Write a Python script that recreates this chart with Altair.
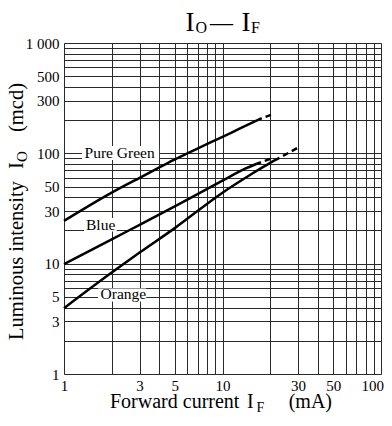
import altair as alt
import pandas as pd

SERIF = "Liberation Serif"

# ---- curve data (log-log) ----
green_x = [1, 2, 3, 4, 5, 7, 10, 13, 17.7]
green_y = [24.4, 44, 60, 74.5, 88, 111, 141, 169, 208]
green_dash_x = [17.7, 20.2]
green_dash_y = [208, 223]

blue_x = [1, 2, 3, 5, 10, 14, 17.5]
blue_y = [9.9, 16.6, 22.5, 33, 56.5, 73, 83]
blue_dash_x = [17.5, 20.4]
blue_dash_y = [83, 90]

orange_x = [1, 2, 3, 5, 10, 15, 20, 22.9]
orange_y = [3.95, 8.3, 12.6, 21, 44, 64, 82, 91]
orange_dash_x = [22.9, 30.4]
orange_dash_y = [91, 114]

# ---- axes ----
x_grid = [1, 2, 3, 4, 5, 6, 7, 8, 9, 10, 20, 30, 40, 50, 60, 70, 80, 90, 100]
y_grid = [1, 2, 3, 4, 5, 6, 7, 8, 9, 10, 20, 30, 40, 50, 60, 70, 80, 90,
          100, 200, 300, 400, 500, 600, 700, 800, 900, 1000]
x_labels = [1, 3, 5, 10, 30, 50, 100]
y_labels = [1, 3, 5, 10, 30, 50, 100, 300, 500]

# ---- curve labels ----
label_text = ["Pure Green", "Blue", "Orange"]
label_x = [1.347, 1.377, 1.70]
label_y = [100, 22.2, 5.3]
box_x1 = [1.30, 1.337, 1.639]
box_x2 = [3.98, 2.15, 3.30]
box_y1 = [87.1, 19.6, 4.55]
box_y2 = [116.7, 25.97, 5.95]

rows = []
for name, xs, ys in [("Pure Green", green_x, green_y), ("Blue", blue_x, blue_y), ("Orange", orange_x, orange_y)]:
    for a, b in zip(xs, ys):
        rows.append({"series": name, "x": a, "y": b})
solid_df = pd.DataFrame(rows)

rows = []
for name, xs, ys in [("Pure Green", green_dash_x, green_dash_y), ("Blue", blue_dash_x, blue_dash_y), ("Orange", orange_dash_x, orange_dash_y)]:
    for a, b in zip(xs, ys):
        rows.append({"series": name, "x": a, "y": b})
dash_df = pd.DataFrame(rows)

labels_df = pd.DataFrame({"text": label_text, "x": label_x, "y": label_y,
                          "bx1": box_x1, "bx2": box_x2, "by1": box_y1, "by2": box_y2})

x_expr = "indexof(%s, datum.value) >= 0 ? format(datum.value, 'd') : ''" % str(x_labels)
y_expr = "datum.value == 1000 ? '1 000' : (indexof(%s, datum.value) >= 0 ? format(datum.value, 'd') : '')" % str(y_labels)

axis_common = dict(title=None, grid=True, ticks=False, domain=False, labelOverlap=False,
                   labelFont=SERIF, labelFontSize=15, labelColor="black",
                   gridColor="#2a2a2a", gridWidth=1)

x_scale = alt.Scale(type="log", domain=[1, 100], nice=False)
y_scale = alt.Scale(type="log", domain=[1, 1000], nice=False)
x_axis = alt.Axis(values=x_grid, labelExpr=x_expr, labelFlush=False, labelPadding=4,
                  labelAlign={"expr": "datum.value == 100 ? 'right' : 'center'"},
                  labelOffset={"expr": "datum.value == 100 ? 2.5 : 0"},
                  **axis_common)
y_axis = alt.Axis(values=y_grid, labelExpr=y_expr, labelPadding=5, **axis_common)

boxes = alt.Chart(labels_df).mark_rect(color="white").encode(
    x=alt.X("bx1:Q", scale=x_scale, axis=x_axis),
    x2="bx2:Q",
    y=alt.Y("by1:Q", scale=y_scale, axis=y_axis),
    y2="by2:Q",
)

solid = alt.Chart(solid_df).mark_line(color="black", strokeWidth=2.5, interpolate="monotone").encode(
    x=alt.X("x:Q", scale=x_scale, axis=x_axis),
    y=alt.Y("y:Q", scale=y_scale, axis=y_axis),
    detail="series:N",
)

dashed = alt.Chart(dash_df).mark_line(color="black", strokeWidth=2.5, strokeDash=[6, 4], strokeDashOffset=6).encode(
    x=alt.X("x:Q", scale=x_scale, axis=x_axis),
    y=alt.Y("y:Q", scale=y_scale, axis=y_axis),
    detail="series:N",
)

label_marks = alt.Chart(labels_df).mark_text(font=SERIF, fontSize=15.5, align="left", baseline="middle", color="black").encode(
    x=alt.X("x:Q", scale=x_scale, axis=x_axis),
    y=alt.Y("y:Q", scale=y_scale, axis=y_axis),
    text="text:N",
)


def txt(s, px, py, size, angle=None, align="left", baseline="alphabetic"):
    kw = dict(font=SERIF, fontSize=size, align=align, baseline=baseline, color="black")
    if angle is not None:
        kw["angle"] = angle
    return alt.Chart(pd.DataFrame({"t": [s]})).mark_text(**kw).encode(
        x=alt.value(px), y=alt.value(py), text="t:N")


texts = [
    # title  I_O — I_F
    txt("I", 121.5, -12.3, 27),
    txt("O", 131.5, -10.5, 16),
    txt("\u2014", 146, -12.8, 23),
    txt("I", 177.5, -12.3, 27),
    txt("F", 187, -10.5, 16),
    # x title
    txt("Forward current", 46, 365, 20),
    txt("I", 183, 365, 20),
    txt("F", 192.5, 368.5, 14),
    txt("(mA)", 268, 365, 20, align="right"),
    # y title
    txt("Luminous intensity", -41, 297, 20.5, angle=270),
    txt("I", -41, 126, 20.5, angle=270),
    txt("O", -37, 119, 15, angle=270),
    txt("(mcd)", -41, 40, 20.5, angle=270, align="right"),
]

chart = alt.layer(boxes, solid, dashed, label_marks, *texts).properties(
    width=317, height=331,
    autosize=alt.AutoSizeParams(type="none"),
    padding={"left": 56, "top": 35, "right": 3, "bottom": 39},
).configure_view(stroke="black", strokeWidth=1.4).configure(background="white")

chart.save("out.html", embed_options={"renderer": "svg", "actions": False})
